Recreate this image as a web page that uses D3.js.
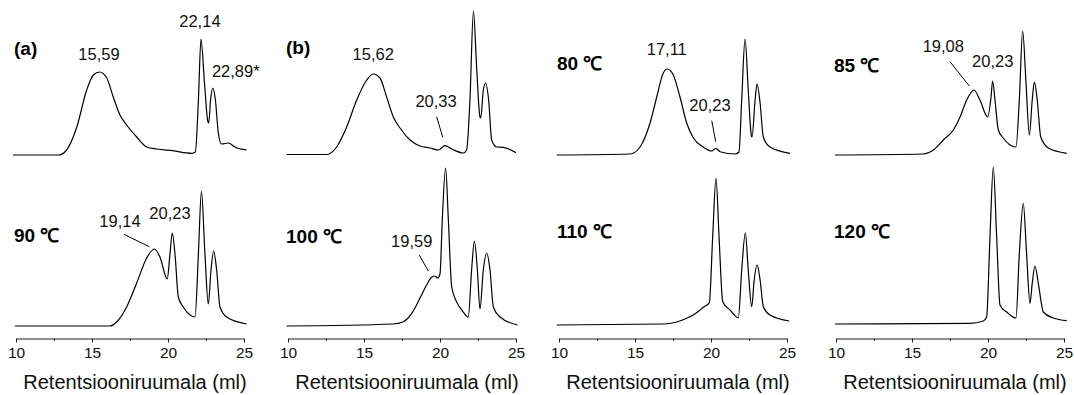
<!DOCTYPE html>
<html>
<head>
<meta charset="utf-8">
<script src="https://cdn.jsdelivr.net/npm/d3@7"></script>
<style>
  html, body { margin: 0; padding: 0; background: #fff; }
  svg { display: block; font-family: "Liberation Sans", Arial, Helvetica, sans-serif; }
</style>
</head>
<body>
<svg id="chart" width="1074" height="395"></svg>
<script>
// ---------- data (retention volume ml, relative detector signal) ----------
const xTicks = [10, 15, 20, 25];
const minorTicks = [12.5, 17.5, 22.5];
const axisTitle = "Retentsiooniruumala (ml)";

const trace_a = [[9.8,0],[12.8,0],[13.33,5],[14.0,28],[14.65,65],[15.09,80],[15.5,83],[15.97,77],[16.4,58],[16.84,40],[17.28,30],[17.94,18],[18.6,8],[19.26,6],[20.3,4.3],[21.56,1.7],[21.8,3],[22.0,55],[22.17,116],[22.4,72],[22.63,33],[22.68,32],[22.8,55],[22.95,67],[23.12,55],[23.31,22],[23.53,11],[23.97,12],[24.4,8],[25.18,5]];
const trace_b = [[9.9,0.5],[12.55,0.5],[13.2,8],[13.86,28],[14.52,55],[15.18,75],[15.61,81],[16.05,77],[16.49,58],[16.93,38],[17.37,27],[18.03,15],[18.68,9],[19.34,7],[19.89,5],[20.33,9.3],[20.77,6],[21.53,2],[21.75,5],[21.97,55],[22.2,144],[22.41,88],[22.63,38],[22.68,37],[22.85,65],[23.0,72],[23.2,55],[23.4,15],[23.73,8],[24.17,7.7],[25.0,2.3]];
const trace_80 = [[9.85,0],[14.67,1],[15.33,8],[15.99,32],[16.43,58],[16.86,82],[17.13,86],[17.52,80],[17.96,58],[18.4,32],[18.84,17],[19.49,8],[20.05,4],[20.31,6.7],[20.6,3.3],[21.58,1],[21.84,3],[22.02,55],[22.24,116],[22.45,65],[22.66,19],[22.7,18],[22.9,55],[23.03,71],[23.23,52],[23.44,18],[23.88,8],[25.2,1.7]];
const trace_85 = [[9.93,0],[15.75,1],[16.4,5],[17.06,15],[17.72,25],[18.16,38],[18.6,55],[19.08,65],[19.47,55],[19.98,38],[20.2,58],[20.3,74],[20.46,55],[20.68,25],[21.0,17],[21.45,10],[21.84,8],[22.06,55],[22.28,124],[22.5,72],[22.72,20],[22.91,55],[23.05,73],[23.24,55],[23.47,18],[23.97,7],[25.18,1.7]];
const trace_90 = [[9.93,0],[16.18,0],[16.62,4],[17.28,19],[17.94,43],[18.6,68],[19.1,77],[19.47,69],[19.95,47],[20.13,72],[20.28,93],[20.46,72],[20.68,29],[21.0,19],[21.45,11],[21.78,9],[22.0,72],[22.2,135],[22.43,72],[22.65,22],[22.83,56],[23.0,75],[23.2,56],[23.42,19],[23.86,9],[25.18,2]];
const trace_100 = [[9.9,0],[16.93,2],[17.59,4.3],[18.14,12.7],[18.68,27.7],[19.12,41],[19.45,48.7],[19.65,50],[19.85,48],[20.0,52],[20.15,106],[20.37,158],[20.55,106],[20.77,39],[21.1,24],[21.53,14],[21.86,9],[22.08,56],[22.26,85],[22.46,56],[22.63,17],[22.85,56],[23.07,73],[23.29,56],[23.51,19],[23.95,9],[25.1,1]];
const trace_110 = [[9.85,1],[16.86,2],[17.74,4],[18.4,7.7],[19.06,13.3],[19.49,18.7],[19.89,23.3],[20.11,89],[20.33,147.7],[20.53,89],[20.77,24.3],[21.25,16],[21.8,8.3],[22.02,56],[22.26,93],[22.45,56],[22.68,19.3],[22.84,46],[23.03,61],[23.23,46],[23.44,19.3],[23.88,11],[25.15,5]];
const trace_120 = [[9.93,2],[18.82,2.7],[19.69,5],[19.91,9],[20.13,89],[20.35,159],[20.57,89],[20.79,20.7],[21.23,14],[21.84,8],[22.06,72],[22.32,122.7],[22.54,72],[22.76,22.7],[22.91,42.7],[23.09,60],[23.31,42.7],[23.64,14],[24.3,8],[25.18,5.3]];

const panelTitles = ["(a)", "(b)", "80 ℃", "85 ℃", "90 ℃", "100 ℃", "110 ℃", "120 ℃"];
const panelTitleLevel = [100, 101, 85, 83, 84, 83, 88, 88];

// peak annotations: [panel, text, x, level, anchor]
const peakLabels = [
  [0, "15,59", 15.46, 95, "middle"],
  [0, "22,14", 22.1, 128, "middle"],
  [0, "22,89*", 22.89, 78, "start"],
  [1, "15,62", 15.61, 95, "middle"],
  [1, "20,33", 19.74, 48.3, "middle"],
  [2, "17,11", 17.09, 100, "middle"],
  [2, "20,23", 19.93, 44, "middle"],
  [3, "19,08", 17.06, 103.3, "middle"],
  [3, "20,23", 20.31, 88.3, "middle"],
  [4, "19,14", 16.84, 98.7, "middle"],
  [4, "20,23", 20.13, 106.7, "middle"],
  [5, "19,59", 18.14, 79.3, "middle"]
];
// leader lines: [panel, x1, level1, x2, level2]
const leaders = [
  [1, 19.78, 38.3, 20.18, 17.7],
  [2, 20.05, 34.3, 20.31, 13.3],
  [3, 17.5, 93.3, 18.77, 69],
  [4, 17.1, 91.7, 18.77, 79.3],
  [5, 18.64, 71, 19.23, 55]
];

const traces = [trace_a, trace_b, trace_80, trace_85, trace_90, trace_100, trace_110, trace_120];

// ---------- layout ----------
const colLeft = [16, 288, 559, 836];
const colWidth = 228;
const rowScales = [
  d3.scaleLinear().domain([0, 150]).range([155, 5]),
  d3.scaleLinear().domain([0, 160]).range([326, 166])
];
const axisY = 338.5;
const FONT = '"Liberation Sans", Arial, Helvetica, sans-serif';

const svg = d3.select("#chart");
const xScales = colLeft.map(l => d3.scaleLinear().domain([10, 25]).range([l, l + colWidth]));

// axes
xScales.forEach((x, c) => {
  const g = svg.append("g").attr("transform", `translate(0,${axisY})`);
  g.call(d3.axisBottom(x).tickValues(xTicks).tickSize(4).tickPadding(4).tickSizeOuter(0));
  g.attr("font-family", null).attr("font-size", null);
  g.select(".domain").attr("stroke", "#222").attr("stroke-width", 1);
  g.selectAll(".tick line").attr("stroke", "#222");
  g.selectAll(".tick text").attr("fill", "#111")
    .style("font-size", "15.5px")
    .style("font-family", FONT);
  const gm = svg.append("g").attr("transform", `translate(0,${axisY})`);
  gm.call(d3.axisBottom(x).tickValues(minorTicks).tickSize(2.5).tickFormat(""));
  gm.select(".domain").remove();
  gm.selectAll(".tick line").attr("stroke", "#222");
  svg.append("text")
    .attr("x", (x.range()[0] + x.range()[1]) / 2 + 5)
    .attr("y", 389)
    .attr("text-anchor", "middle")
    .style("font-size", "20px")
    .attr("fill", "#111")
    .text(axisTitle);
});

// traces
traces.forEach((tr, i) => {
  const x = xScales[i % 4];
  const y = rowScales[Math.floor(i / 4)];
  const line = d3.line().x(d => x(d[0])).y(d => y(d[1])).curve(d3.curveMonotoneX);
  svg.append("path").datum(tr)
    .attr("d", line)
    .attr("fill", "none")
    .attr("stroke", "#000")
    .attr("stroke-width", 1.2)
    .attr("stroke-linejoin", "round");
});

// panel titles
panelTitles.forEach((t, i) => {
  const x = xScales[i % 4];
  const y = rowScales[Math.floor(i / 4)];
  svg.append("text")
    .attr("x", x(10) - 2)
    .attr("y", y(panelTitleLevel[i]))
    .style("font-size", "19px")
    .attr("font-weight", "bold")
    .attr("fill", "#000")
    .text(t);
});

// peak labels
peakLabels.forEach(([p, t, xv, lv, anchor]) => {
  const x = xScales[p % 4];
  const y = rowScales[Math.floor(p / 4)];
  svg.append("text")
    .attr("x", x(xv))
    .attr("y", y(lv))
    .attr("text-anchor", anchor)
    .style("font-size", "16.5px")
    .attr("fill", "#111")
    .text(t);
});

leaders.forEach(([p, x1, l1, x2, l2]) => {
  const x = xScales[p % 4];
  const y = rowScales[Math.floor(p / 4)];
  svg.append("line")
    .attr("x1", x(x1)).attr("y1", y(l1))
    .attr("x2", x(x2)).attr("y2", y(l2))
    .attr("stroke", "#000").attr("stroke-width", 1);
});
</script>
</body>
</html>
